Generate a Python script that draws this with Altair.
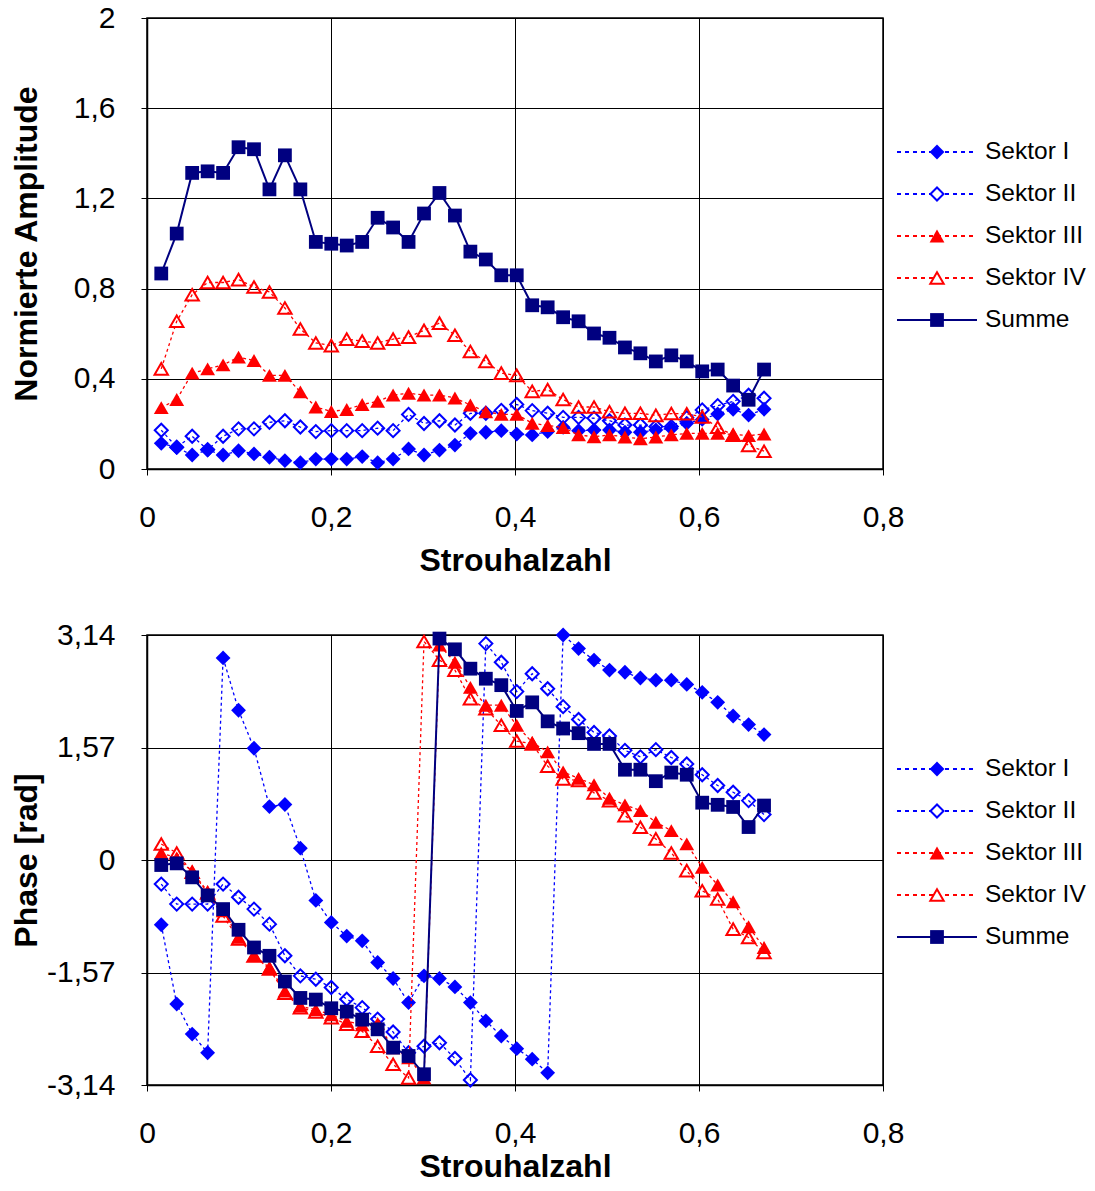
import altair as alt
import pandas as pd

# ---------------- data ----------------
STROUHAL = [0.0155, 0.0323, 0.0491, 0.0659, 0.0827, 0.0995, 0.1163, 0.1331, 0.1499, 0.1667,
            0.1835, 0.2003, 0.2171, 0.2339, 0.2507, 0.2675, 0.2843, 0.3011, 0.3179, 0.3347,
            0.3515, 0.3683, 0.3851, 0.4019, 0.4187, 0.4355, 0.4523, 0.4691, 0.4859, 0.5027,
            0.5195, 0.5363, 0.5531, 0.5699, 0.5867, 0.6035, 0.6203, 0.6371, 0.6539, 0.6707]

SERIES = ["Sektor I", "Sektor II", "Sektor III", "Sektor IV", "Summe"]
LEGEND_ROWS = [1, 2, 3, 4, 5]

AMP_I = [0.114, 0.095, 0.062, 0.084, 0.062, 0.081, 0.067, 0.052, 0.037, 0.028,
         0.044, 0.044, 0.044, 0.055, 0.028, 0.044, 0.089, 0.062, 0.084, 0.106,
         0.158, 0.163, 0.170, 0.155, 0.151, 0.166, 0.185, 0.170, 0.173, 0.173,
         0.163, 0.163, 0.173, 0.180, 0.203, 0.220, 0.244, 0.265, 0.239, 0.265]
AMP_II = [0.172, 0.097, 0.145, 0.086, 0.145, 0.178, 0.178, 0.207, 0.214, 0.186,
          0.166, 0.170, 0.170, 0.170, 0.181, 0.170, 0.242, 0.202, 0.214, 0.195,
          0.247, 0.247, 0.260, 0.286, 0.259, 0.247, 0.229, 0.229, 0.225, 0.214,
          0.195, 0.195, 0.188, 0.188, 0.228, 0.262, 0.281, 0.300, 0.327, 0.314]
AMP_III = [0.272, 0.308, 0.425, 0.444, 0.462, 0.496, 0.481, 0.415, 0.415, 0.342,
           0.275, 0.255, 0.264, 0.286, 0.300, 0.328, 0.336, 0.328, 0.328, 0.315,
           0.284, 0.254, 0.242, 0.242, 0.203, 0.193, 0.184, 0.151, 0.143, 0.151,
           0.142, 0.134, 0.142, 0.151, 0.158, 0.158, 0.158, 0.153, 0.148, 0.155]
AMP_IV = [0.444, 0.655, 0.773, 0.827, 0.827, 0.840, 0.807, 0.785, 0.714, 0.621,
          0.559, 0.547, 0.576, 0.567, 0.559, 0.576, 0.585, 0.615, 0.647, 0.593,
          0.521, 0.477, 0.425, 0.415, 0.344, 0.352, 0.308, 0.275, 0.275, 0.254,
          0.247, 0.247, 0.238, 0.246, 0.245, 0.231, 0.185, 0.150, 0.105, 0.079]
AMP_SUM = [0.867, 1.044, 1.313, 1.320, 1.313, 1.427, 1.418, 1.240, 1.391, 1.240,
           1.007, 0.999, 0.991, 1.007, 1.114, 1.071, 1.007, 1.133, 1.224, 1.124,
           0.964, 0.929, 0.859, 0.859, 0.726, 0.717, 0.673, 0.655, 0.601, 0.582,
           0.539, 0.513, 0.477, 0.504, 0.477, 0.433, 0.441, 0.370, 0.307, 0.441]

PH_I = [-0.904, -2.01, -2.43, -2.69, 2.82, 2.09, 1.56, 0.746, 0.774, 0.165,
        -0.564, -0.871, -1.062, -1.128, -1.43, -1.654, -1.99, -1.617, -1.654, -1.771,
        -1.99, -2.246, -2.456, -2.633, -2.78, -2.97, 3.14, 2.95, 2.79, 2.65,
        2.62, 2.54, 2.51, 2.51, 2.45, 2.34, 2.20, 2.01, 1.89, 1.75]
PH_II = [-0.336, -0.615, -0.615, -0.615, -0.336, -0.52, -0.685, -0.895, -1.337, -1.617,
         -1.664, -1.78, -1.943, -2.06, -2.22, -2.40, -2.69, -2.60, -2.55, -2.77,
         -3.07, 3.02, 2.76, 2.35, 2.60, 2.39, 2.14, 1.96, 1.78, 1.73,
         1.53, 1.44, 1.54, 1.43, 1.34, 1.19, 1.04, 0.946, 0.829, 0.634]
PH_III = [0.098, 0.03, -0.16, -0.44, -0.71, -1.08, -1.33, -1.50, -1.83, -2.04,
          -2.09, -2.16, -2.25, -2.30, -2.28, -2.62, -2.76, -3.04, 3.00, 2.76,
          2.41, 2.16, 2.16, 1.88, 1.64, 1.51, 1.23, 1.14, 1.05, 0.862,
          0.769, 0.690, 0.527, 0.410, 0.224, -0.103, -0.349, -0.582, -0.932, -1.221]
PH_IV = [0.224, 0.098, -0.17, -0.46, -0.78, -1.10, -1.34, -1.52, -1.86, -2.06,
         -2.12, -2.20, -2.29, -2.39, -2.60, -2.85, -3.04, 3.05, 2.79, 2.65,
         2.25, 2.11, 1.88, 1.66, 1.62, 1.31, 1.13, 1.11, 0.937, 0.829,
         0.620, 0.457, 0.294, 0.098, -0.149, -0.429, -0.545, -0.965, -1.081, -1.291]
PH_SUM = [-0.07, -0.047, -0.242, -0.494, -0.685, -0.974, -1.221, -1.337, -1.696, -1.925,
          -1.948, -2.069, -2.116, -2.228, -2.363, -2.619, -2.735, -2.99, 3.09, 2.94,
          2.67, 2.53, 2.44, 2.08, 2.20, 1.935, 1.835, 1.77, 1.62, 1.62,
          1.26, 1.26, 1.10, 1.22, 1.19, 0.80, 0.77, 0.74, 0.46, 0.76]

X_TICKS = [0, 0.2, 0.4, 0.6, 0.8]
AMP_TICKS = [0, 0.4, 0.8, 1.2, 1.6, 2]
PH_TICKS = [-3.14, -1.57, 0, 1.57, 3.14]

# ---------------- styles ----------------
FONT = "Liberation Sans"
BLUE, RED, NAVY = "#0000FF", "#FF0000", "#000080"
STYLE = {
    "Sektor I":   dict(color=BLUE, shape="diamond", filled=True, dash=[3, 3], lw=1.3, size=220),
    "Sektor II":  dict(color=BLUE, shape="diamond", filled=False, dash=[3, 3], lw=1.3, size=170),
    "Sektor III": dict(color=RED, shape="triangle-up", filled=True, dash=[3, 3], lw=1.3, size=220),
    "Sektor IV":  dict(color=RED, shape="triangle-up", filled=False, dash=[3, 3], lw=1.3, size=180),
    "Summe":      dict(color=NAVY, shape="square", filled=True, dash=None, lw=2, size=190),
}

LABEL_EXPR = "replace(toString(datum.value), '.', ',')"


def axis(title, values, **kw):
    return alt.Axis(
        title=title, values=values, labelExpr=LABEL_EXPR, grid=True, labelFlush=False,
        gridColor="black", gridWidth=1, gridOpacity=1,
        domainColor="black", domainWidth=1.5, tickColor="black", tickSize=6, tickWidth=1,
        labelFont=FONT, labelFontSize=30, labelColor="black",
        titleFont=FONT, titleFontSize=32, titleFontWeight="bold", titleColor="black",
        **kw)


def panel(data, ytitle, yticks, ydomain, height, xtitle_y):
    xenc = alt.X("x:Q", scale=alt.Scale(domain=[0, 0.8], nice=False),
                 axis=axis("Strouhalzahl", X_TICKS, labelPadding=27, titleY=xtitle_y))
    yenc = alt.Y("y:Q", scale=alt.Scale(domain=ydomain, nice=False, zero=False),
                 axis=axis(ytitle, yticks, labelPadding=26, titleX=-104))
    layers = []
    for s in SERIES:
        st = STYLE[s]
        df = pd.DataFrame({"x": STROUHAL, "y": data[s]})
        base = alt.Chart(df)
        lkw = dict(color=st["color"], strokeWidth=st["lw"])
        if st["dash"]:
            lkw["strokeDash"] = st["dash"]
        layers.append(base.mark_line(**lkw).encode(x=xenc, y=yenc))
        pkw = dict(shape=st["shape"], filled=st["filled"], color=st["color"], size=st["size"],
                   opacity=1, strokeWidth=2 if not st["filled"] else 1)
        layers.append(base.mark_point(**pkw).encode(x=xenc, y=yenc))
    return alt.layer(*layers).properties(
        width=736, height=height,
        view=alt.ViewBackground(stroke="black", strokeWidth=1.5))


def legend(height):
    ldf = pd.DataFrame({"series": SERIES, "row": LEGEND_ROWS,
                        "a": [0] * 5, "m": [0.5] * 5, "b": [1] * 5})
    # 42 px between entries, first entry 134 px below the top of the panel
    span = height / 42.0
    lo = 1 - 134 / 42.0
    yenc = alt.Y("row:Q", axis=None,
                 scale=alt.Scale(domain=[lo, lo + span], reverse=True, nice=False, zero=False))
    xs = alt.Scale(domain=[0, 1])
    layers = []
    for s in SERIES:
        st = STYLE[s]
        sub = alt.Chart(ldf).transform_filter(alt.datum.series == s)
        rkw = dict(color=st["color"], strokeWidth=2)
        if st["dash"]:
            rkw["strokeDash"] = [4, 4]
        layers.append(sub.mark_rule(**rkw).encode(
            x=alt.X("a:Q", scale=xs, axis=None), x2="b:Q", y=yenc))
        pkw = dict(shape=st["shape"], filled=True, color=st["color"], size=st["size"],
                   opacity=1, strokeWidth=2)
        if not st["filled"]:
            pkw.update(filled=False, fill="white", fillOpacity=1)
        layers.append(sub.mark_point(**pkw).encode(
            x=alt.X("m:Q", scale=xs, axis=None), y=yenc))
        layers.append(sub.mark_text(align="left", dx=8, font=FONT, fontSize=24.5,
                                    color="black").encode(
            x=alt.X("b:Q", scale=xs, axis=None), y=yenc, text="series:N"))
    return alt.layer(*layers).properties(
        width=80, height=height, view=alt.ViewBackground(stroke="transparent"))


amp = {"Sektor I": AMP_I, "Sektor II": AMP_II, "Sektor III": AMP_III,
       "Sektor IV": AMP_IV, "Summe": AMP_SUM}
ph = {"Sektor I": PH_I, "Sektor II": PH_II, "Sektor III": PH_III,
      "Sektor IV": PH_IV, "Summe": PH_SUM}

top = alt.hconcat(panel(amp, "Normierte Amplitude", AMP_TICKS, [0, 2], 451, 76), legend(451),
                  spacing=14, bounds="flush")
bottom = alt.hconcat(panel(ph, "Phase [rad]", PH_TICKS, [-3.14, 3.14], 450, 66), legend(450),
                     spacing=14, bounds="flush")

chart = alt.vconcat(top, bottom, spacing=42).properties(
    padding={"left": 1, "top": -6, "right": 0, "bottom": -6}
).configure(background="white")

chart.save("out.html", embed_options={"renderer": "svg", "actions": False})
